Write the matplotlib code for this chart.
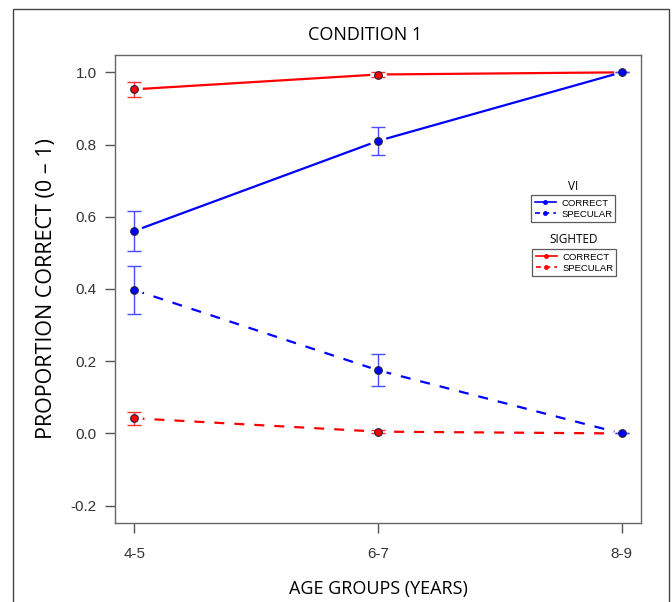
import matplotlib.pyplot as plt
from matplotlib.lines import Line2D
from matplotlib.patches import Rectangle

# data
ages = ["4-5", "6-7", "8-9"]
x = [1, 2, 3]

vi_correct = [0.561, 0.810, 1.000]
vi_correct_err = [0.056, 0.040, 0.0]
vi_specular = [0.397, 0.175, 0.000]
vi_specular_err = [0.067, 0.044, 0.0]

sig_correct = [0.953, 0.994, 1.000]
sig_correct_err = [0.020, 0.006, 0.0]
sig_specular = [0.042, 0.005, 0.000]
sig_specular_err = [0.018, 0.004, 0.0]

yticks = [-0.2, 0.0, 0.2, 0.4, 0.6, 0.8, 1.0]

BLUE = "#0000ff"
RED = "#ff0000"
title_font = ["Open Sans", "DejaVu Sans"]
tick_font = ["Liberation Sans", "DejaVu Sans"]

fig = plt.figure(figsize=(6.72, 6.02), dpi=100)
ax = fig.add_axes([115 / 672, 1 - 523 / 602, (641 - 115) / 672, (523 - 55) / 602])

# outer frame around the figure (bottom runs off the picture)
fig.add_artist(Rectangle((13 / 672, -0.05), (669 - 13) / 672, 1.05 - 9 / 602,
                         transform=fig.transFigure, fill=False,
                         edgecolor="#444444", linewidth=1.0))


def series(y, err, color, ecolor, ls, z):
    ax.plot(x, y, color=color, linestyle=ls, linewidth=1.6,
            dashes=(4.5, 4.5) if ls == "--" else (None, None), zorder=z)
    # white halo to leave gaps around points like R type="b"
    ax.plot(x, y, linestyle="none", marker="o", markersize=12,
            markerfacecolor="white", markeredgecolor="none", zorder=z + 0.1)
    ax.errorbar(x, y, yerr=err, fmt="none", ecolor=ecolor, elinewidth=1.0,
                capsize=5, capthick=1.0, zorder=z + 0.2)
    ax.plot(x, y, linestyle="none", marker="o", markersize=5.5,
            markerfacecolor=color, markeredgecolor="#202040",
            markeredgewidth=0.8, zorder=z + 0.3)


series(sig_correct, sig_correct_err, RED, "#ff3030", "-", 2)
series(sig_specular, sig_specular_err, RED, "#ff3030", "--", 2)
series(vi_correct, vi_correct_err, BLUE, "#4a4aff", "-", 3)
series(vi_specular, vi_specular_err, BLUE, "#4a4aff", "--", 3)

ax.set_xlim(0.92, 3.08)
ax.set_ylim(-0.248, 1.048)
ax.set_xticks(x)
ax.set_xticklabels(ages)
ax.set_yticks(yticks)
ax.set_yticklabels([f"{v:.1f}" for v in yticks])
for lab in ax.get_xticklabels() + ax.get_yticklabels():
    lab.set_family(tick_font)
    lab.set_fontsize(11)
    lab.set_color("#333333")
ax.tick_params(axis="both", length=7, width=1.0, color="#555555")
ax.tick_params(axis="x", pad=10)
ax.tick_params(axis="y", pad=6)
for sp in ax.spines.values():
    sp.set_color("#666666")
    sp.set_linewidth(1.0)

ax.set_title("CONDITION 1", family=title_font, fontsize=13, pad=11,
             x=0.475)
ax.set_xlabel("AGE GROUPS (YEARS)", family=title_font, fontsize=13,
              labelpad=14)
ax.set_ylabel("PROPORTION CORRECT (0 \u2013 1)", family=title_font,
              fontsize=15.5, labelpad=10)


def legend_block(color, title, top_px, left_px, right_px, bottom_px):
    handles = [
        Line2D([], [], color=color, linewidth=1.2, marker="o", markersize=2.5),
        Line2D([], [], color=color, linewidth=1.2, linestyle="--",
               dashes=(3, 2.5), marker="o", markersize=2.5),
    ]
    w = (right_px - left_px) / 672
    h = (bottom_px - top_px) / 602
    leg = fig.legend(handles, ["CORRECT", "SPECULAR"],
                     loc="upper left",
                     bbox_to_anchor=(left_px / 672, 1 - bottom_px / 602, w, h),
                     mode="expand", borderaxespad=0,
                     prop={"family": tick_font, "size": 6.8},
                     handlelength=2.2, handletextpad=0.6, labelspacing=0.2,
                     borderpad=0.4, fancybox=False, frameon=True)
    leg.get_frame().set_edgecolor("#333333")
    leg.get_frame().set_linewidth(0.9)
    fig.text((left_px + right_px) / 2 / 672, 1 - (top_px - 9) / 602, title,
             ha="center", va="center", family=title_font, fontsize=8.5)


legend_block(BLUE, "VI", 195, 531, 615, 222)
legend_block(RED, "SIGHTED", 249, 532, 616, 277)

fig.savefig("out.png", dpi=100, facecolor="white")
